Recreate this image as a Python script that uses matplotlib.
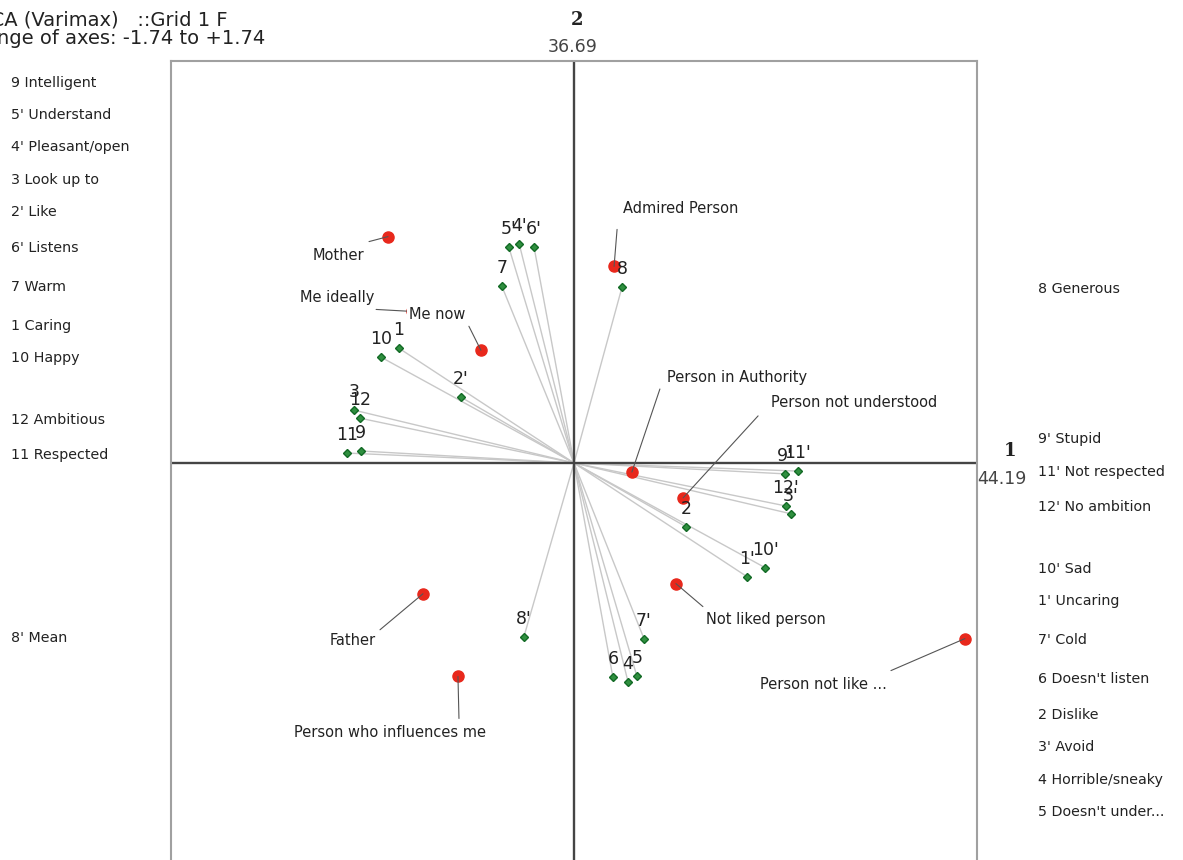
import numpy as np
import matplotlib
matplotlib.use("Agg")
import matplotlib.pyplot as plt

W, H = 1183, 860

# construct poles (loadings on component 1 and 2)
pole_labels = ["5'", "4'", "6'", "7", "8", "10", "1", "2'", "3", "12", "11", "9",
               "9'", "11'", "12'", "3'", "2", "1'", "10'", "8'", "7'", "6", "4", "5"]
pole_x = [-0.281, -0.237, -0.173, -0.311, 0.207, -0.833, -0.756, -0.488, -0.950, -0.924, -0.980, -0.920,
          0.911, 0.967, 0.915, 0.937, 0.484, 0.747, 0.825, -0.216, 0.302, 0.168, 0.233, 0.272]
pole_y = [0.933, 0.950, 0.937, 0.764, 0.760, 0.458, 0.497, 0.285, 0.229, 0.194, 0.043, 0.052,
          -0.047, -0.035, -0.186, -0.220, -0.276, -0.492, -0.453, -0.751, -0.760, -0.928, -0.946, -0.924]

# elements
element_names = ["Mother", "Me ideally", "Me now", "Admired Person", "Person in Authority",
                 "Person not understood", "Not liked person", "Person not like ...", "Father",
                 "Person who influences me"]
element_x = [-0.803, -0.699, -0.402, 0.173, 0.250, 0.471, 0.440, 1.688, -0.652, -0.501]
element_y = [0.980, 0.656, 0.488, 0.851, -0.039, -0.151, -0.522, -0.760, -0.566, -0.924]

left_poles = ["9 Intelligent", "5' Understand", "4' Pleasant/open", "3 Look up to", "2' Like",
              "6' Listens", "7 Warm", "1 Caring", "10 Happy", "12 Ambitious", "11 Respected", "8' Mean"]
right_poles = ["8 Generous", "9' Stupid", "11' Not respected", "12' No ambition", "10' Sad",
               "1' Uncaring", "7' Cold", "6 Doesn't listen", "2 Dislike", "3' Avoid",
               "4 Horrible/sneaky", "5 Doesn't under..."]

axis_pct = [44.19, 36.69]
axis_range = 1.74

# layout (pixels)
left_y = [83, 115, 147, 180, 212, 248, 287, 326, 358, 420, 455, 638]
right_y = [289, 439, 472, 507, 569, 601, 640, 679, 715, 747, 780, 812]
# label offset and leader start offset for each element (dx, dy up)
label_off = [(-50, -19), (-75, 14), (-44, 36), (67, 58), (105, 95),
             (171, 95), (90, -36), (-142, -46), (-70, -47), (-68, -56)]
leader_off = [(-19, -5), (-36, 2), (-12, 24), (3, 37), (28, 83),
              (75, 82), (27, -23), (-74, -32), (-43, -36), (1, -42)]

fig = plt.figure(figsize=(W / 100, H / 100), dpi=100)
ax = fig.add_axes([171 / W, 1 - 865 / H, 806 / W, 804 / H])
ax.set_xlim(-axis_range, axis_range)
ax.set_ylim(-axis_range, axis_range)
ax.set_xticks([])
ax.set_yticks([])
for s in ax.spines.values():
    s.set_color("#a0a0a0")
    s.set_linewidth(1.5)

ax.axhline(0, color="#444444", lw=1.7, zorder=2)
ax.axvline(0, color="#444444", lw=1.7, zorder=2)

# construct vectors
for x, y in zip(pole_x, pole_y):
    ax.plot([0, x], [0, y], color="#c8c8c8", lw=1, zorder=1)
ax.plot(pole_x, pole_y, "D", ms=4.5, mfc="#2f8f3f", mec="#126a25", mew=1, zorder=4)
for lab, x, y in zip(pole_labels, pole_x, pole_y):
    ax.annotate(lab, (x, y), xytext=(0, 18), textcoords="offset pixels",
                ha="center", va="center", fontsize=12.5, color="#222222", zorder=6)

# elements
ax.plot(element_x, element_y, "o", ms=8, mfc="#e8281c", mec="#e8281c", zorder=3)
for i, name in enumerate(element_names):
    x, y = element_x[i], element_y[i]
    ax.annotate("", xy=(x, y), xytext=leader_off[i], textcoords="offset pixels",
                arrowprops=dict(arrowstyle="-", color="#555555", lw=0.8, shrinkA=0, shrinkB=0),
                zorder=3)
    bbox = None
    if name == "Me now":
        bbox = dict(boxstyle="square,pad=0.1", fc="white", ec="none")
    ax.annotate(name, (x, y), xytext=label_off[i], textcoords="offset pixels",
                ha="center", va="center", fontsize=10.5, color="#222222", bbox=bbox, zorder=5)

# pole names on both sides
for lab, y in zip(left_poles, left_y):
    fig.text(11 / W, 1 - y / H, lab, ha="left", va="center", fontsize=10.3, color="#222222")
for lab, y in zip(right_poles, right_y):
    fig.text(1038 / W, 1 - y / H, lab, ha="left", va="center", fontsize=10.3, color="#222222")

# axis names and percentages
fig.text(577 / W, 1 - 20 / H, "2", ha="center", va="center", fontsize=13,
         fontweight="bold", family="DejaVu Serif", color="#222222")
fig.text(573 / W, 1 - 47 / H, f"{axis_pct[1]:.2f}", ha="center", va="center",
         fontsize=12.5, color="#444444")
fig.text(1010 / W, 1 - 451 / H, "1", ha="center", va="center", fontsize=13,
         fontweight="bold", family="DejaVu Serif", color="#222222")
fig.text(977 / W, 1 - 479 / H, f"{axis_pct[0]:.2f}", ha="left", va="center",
         fontsize=12.5, color="#444444")

# title (cut off at the left edge, as in the source)
fig.text(228 / W, 1 - 20 / H, "PCA (Varimax)   ::Grid 1 F", ha="right", va="center",
         fontsize=14, color="#222222")
fig.text(265 / W, 1 - 39 / H, f"Range of axes: -{axis_range:.2f} to +{axis_range:.2f}",
         ha="right", va="center", fontsize=14, color="#222222")

fig.savefig("out.png", dpi=100, facecolor="white")
